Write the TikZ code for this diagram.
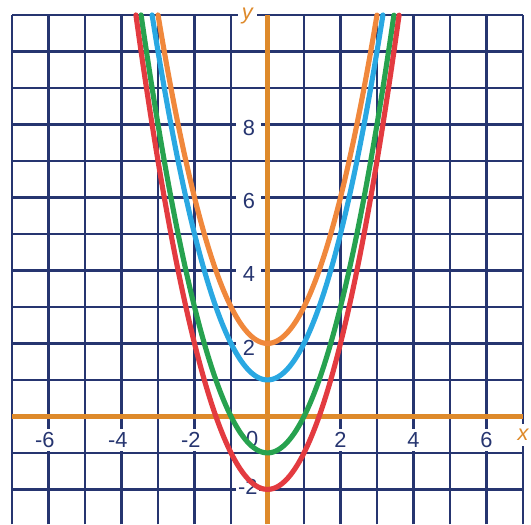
\documentclass[tikz,border=0pt]{standalone}
\usepackage{fontspec}
\setmainfont{Liberation Sans}
\definecolor{gridnavy}{HTML}{263570}
\definecolor{axisorange}{HTML}{DE8A2B}
\definecolor{cOrange}{HTML}{F0883C}
\definecolor{cBlue}{HTML}{2AA8E2}
\definecolor{cGreen}{HTML}{27A24F}
\definecolor{cRed}{HTML}{E33B40}
\tikzset{
  gridline/.style={draw=gridnavy, line width=2.1pt},
  axisline/.style={draw=axisorange, line width=3.4pt},
  curve/.style={line width=4pt, line cap=round, smooth, samples=120},
  ticklab/.style={fill=white, inner xsep=3pt, inner ysep=2.5pt, text=gridnavy, font=\fontsize{17}{19}\selectfont},
  axlab/.style={fill=white, inner xsep=3pt, inner ysep=4pt, text=axisorange, font=\fontsize{17}{19}\selectfont\itshape},
}
\begin{document}
\begin{tikzpicture}
\useasboundingbox (-7.33,-2.96) rectangle (7.22,11.41);
\draw[gridline] (-7,-2.96) grid (7,11);
\foreach \v in {-6,-4,-2} {
  \node[ticklab] (xl\v) at (\v-0.1,-0.65) {\v};
}
\foreach \v in {2,4,6} {
  \node[ticklab] (xl\v) at (\v,-0.65) {\v};
}
\node[ticklab] (xl0) at (-0.42,-0.62) {0};
\foreach \v in {2,4,6,8} {
  \node[ticklab, inner xsep=5pt] (yl\v) at (-0.51,\v-0.11) {\v};
}
\node[ticklab, inner xsep=1.5pt] (ylm2) at (-0.54,-1.92) {-2};
\node[axlab] (xlab) at (7.0,-0.5) {x};
\node[axlab] (ylab) at (-0.55,10.97) {y};
\coordinate (xa) at (-7,0);
\coordinate (xb) at (7,0);
\coordinate (ya) at (0,-2.96);
\coordinate (yb) at (0,11);
\draw[axisline] (xa) -- (xb);
\draw[axisline] (ya) -- (yb);
\draw[curve, cOrange] plot[domain=-3:3] (\x,{\x*\x+2});
\draw[curve, cBlue] plot[domain=-3.1623:3.1623] (\x,{\x*\x+1});
\draw[curve, cGreen] plot[domain=-3.4641:3.4641] (\x,{\x*\x-1});
\draw[curve, cRed] plot[domain=-3.6056:3.6056] (\x,{\x*\x-2});
\end{tikzpicture}
\end{document}
